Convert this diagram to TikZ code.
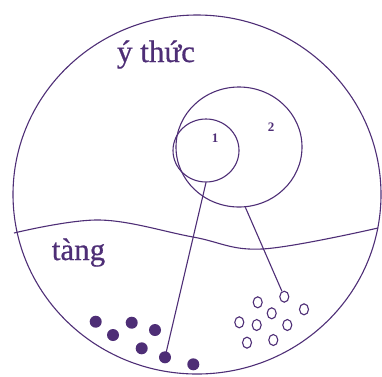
\documentclass[tikz,border=0pt]{standalone}
\usepackage{fontspec}
\setmainfont{Liberation Serif}
\usetikzlibrary{shapes.geometric}
\definecolor{ink}{RGB}{78,46,118}

\begin{document}
\begin{tikzpicture}[x=1pt, y=-1pt, line width=1.1pt, draw=ink,
    every node/.style={text=ink, inner sep=0pt},
    big/.style={font=\fontsize{31}{31}\selectfont\addfontfeatures{FakeBold=0.6}},
    num/.style={font=\fontsize{13}{13}\selectfont\bfseries},
    ring/.style={draw=ink, ellipse},
    fdot/.style={circle, fill=ink, minimum size=12pt},
    odot/.style={draw=ink, ellipse, minimum width=9pt, minimum height=11pt}]
  \useasboundingbox (0,0) rectangle (382,376);

  % the mind and the wave between the two parts
  \node[ring, minimum width=368pt, minimum height=359pt] (mind) at (197,194.5) {};
  \draw[ink] plot[smooth, tension=0.6] coordinates {(14,233) (100,220) (193,237) (262,249) (378,228)};
  \node[big, anchor=base] (ythuc) at (156,62) {ý thức};
  \node[big, anchor=base] (tang) at (78.5,260) {tàng};

  % the two circles
  \node[ring, minimum width=126pt, minimum height=120pt] (c2) at (239,147) {};
  \node[ring, minimum width=66pt, minimum height=63pt] (c1) at (206,150.5) {};
  \node[num] (n1) at (215,138) {1};
  \node[num] (n2) at (271,127) {2};

  % seeds
  \foreach \x/\y [count=\i] in {95.7/321.7, 113/335, 131.7/322.7, 155/330, 141.7/348.3, 165/357.3, 193.3/364.3}
    \node[fdot] (f\i) at (\x,\y) {};
  \foreach \x/\y [count=\i] in {284.3/296.7, 257.7/302.3, 271.7/313.3, 304/309.3, 239.3/322.3, 256.7/325, 287.3/325, 247/342.7, 273.3/340}
    \node[odot] (o\i) at (\x,\y) {};

  \draw[ink] (c1.south) -- (f6.center);
  \draw[ink] (c2.-84) -- (o1);
\end{tikzpicture}
\end{document}
